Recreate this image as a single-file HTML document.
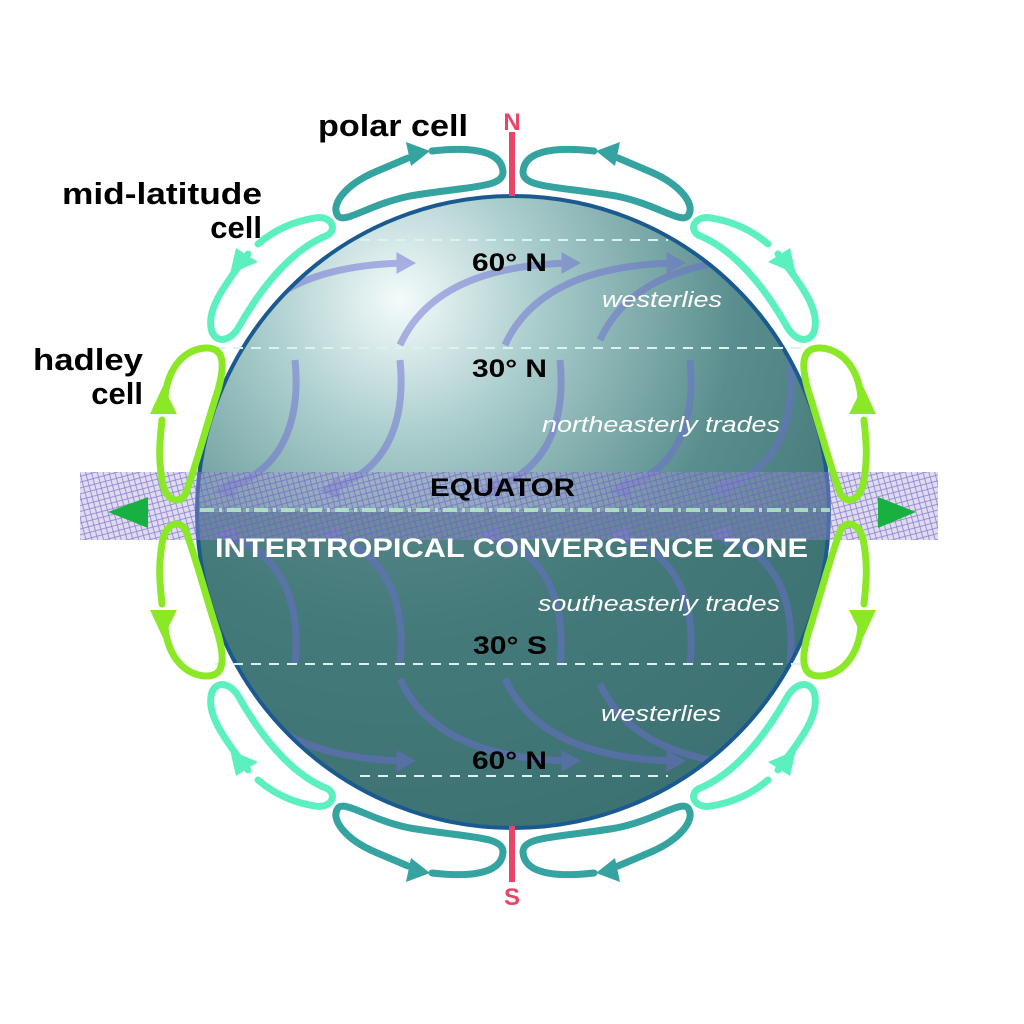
<!DOCTYPE html>
<html><head><meta charset="utf-8"><style>
html,body{margin:0;padding:0;background:#fff}
svg{display:block}
text{font-family:"Liberation Sans",Arial,sans-serif}
</style></head><body>
<svg width="1024" height="1024" viewBox="0 0 1024 1024" xmlns="http://www.w3.org/2000/svg">
<defs>
<radialGradient id="g" cx="400" cy="300" r="560" gradientUnits="userSpaceOnUse">
<stop offset="0" stop-color="#f4fbfb"/>
<stop offset="0.25" stop-color="#a9cccc"/>
<stop offset="0.6" stop-color="#5a8e8e"/>
<stop offset="1" stop-color="#3d6f70"/>
</radialGradient>
<clipPath id="gc"><circle cx="513" cy="512" r="316"/></clipPath>
<pattern id="hatch" width="8" height="8" patternUnits="userSpaceOnUse" patternTransform="rotate(30)">
<path d="M0,0 L8,8 M8,0 L0,8" stroke="#6a5cc0" stroke-width="0.8" opacity="0.7"/>
</pattern>
<g id="wn">
<path d="M0,0 C25,-55 85,-80 170,-82" fill="none" stroke-width="7"/>
<polygon points="180,-82 162,-92 162,-72"/>
</g>
<g id="wt">
<path d="M0,0 C6,60 -12,112 -70,128" fill="none" stroke-width="7"/>
<polygon points="-80,131 -62,118 -60,138"/>
</g>
<g id="cells">
<path d="M432,151 C475,146 502,152 503,172 C503,188 470,186 410,196 C370,204 345,224 338,216 C330,205 345,185 375,172 L408,158" fill="none" stroke="#35a3a0" stroke-width="7" stroke-linecap="round"/>
<polygon points="430,151 406,142 411,166" fill="#35a3a0"/>
<path d="M248,254 C225,285 205,310 212,332 C218,345 232,340 240,325 C260,290 290,250 328,235 C338,228 330,215 315,218 C290,222 272,232 258,244" fill="none" stroke="#5cf0c0" stroke-width="7" stroke-linecap="round"/>
<polygon points="230,274 236,248 258,262" fill="#5cf0c0"/>
<path d="M165,410 C163,375 180,350 205,348 C225,347 225,365 218,390 C205,430 195,470 185,495 C178,505 165,500 162,480 C158,455 160,440 162,420" fill="none" stroke="#8ae826" stroke-width="7" stroke-linecap="round"/>
<polygon points="163,386 150,414 177,414" fill="#8ae826"/>
</g>
</defs>

<circle cx="513" cy="512" r="316" fill="url(#g)"/>
<rect x="197" y="512" width="632" height="320" fill="#3e7374" clip-path="url(#gc)" opacity="0.75"/>
<g clip-path="url(#gc)" fill="#6c6cd2" stroke="#6c6cd2" opacity="0.5">
<use href="#wn" transform="translate(235,345)"/>
<use href="#wn" transform="translate(400,345)"/>
<use href="#wn" transform="translate(505,345)"/>
<use href="#wn" transform="translate(600,340)"/>
<use href="#wt" transform="translate(295,360)"/>
<use href="#wt" transform="translate(400,360)"/>
<use href="#wt" transform="translate(560,360)"/>
<use href="#wt" transform="translate(690,360)"/>
<use href="#wt" transform="translate(790,360)"/>
<g transform="translate(0,1024) scale(1,-1)">
<use href="#wn" transform="translate(235,345)"/>
<use href="#wn" transform="translate(400,345)"/>
<use href="#wn" transform="translate(505,345)"/>
<use href="#wn" transform="translate(600,340)"/>
<use href="#wt" transform="translate(295,360)"/>
<use href="#wt" transform="translate(400,360)"/>
<use href="#wt" transform="translate(560,360)"/>
<use href="#wt" transform="translate(690,360)"/>
<use href="#wt" transform="translate(790,360)"/>
</g>
</g>
<circle cx="513" cy="512" r="316" fill="none" stroke="#1a5a90" stroke-width="4"/>

<g stroke="#d8f4f0" stroke-width="2" stroke-dasharray="10,8">
<line x1="360" y1="240" x2="668" y2="240"/>
<line x1="215" y1="348" x2="810" y2="348"/>
<line x1="215" y1="664" x2="810" y2="664"/>
<line x1="360" y1="776" x2="668" y2="776"/>
</g>

<rect x="80" y="472" width="858" height="68" fill="#a49ad8" opacity="0.35"/>
<rect x="80" y="472" width="858" height="68" fill="url(#hatch)"/>
<line x1="200" y1="510" x2="830" y2="510" stroke="#b8f0c8" stroke-width="4" stroke-dasharray="14,5,3,5" opacity="0.8"/>
<polygon points="108,512 148,497 148,528" fill="#18b040"/>
<polygon points="916,512 878,497 878,528" fill="#18b040"/>

<use href="#cells"/>
<use href="#cells" transform="translate(1026,0) scale(-1,1)"/>
<use href="#cells" transform="translate(0,1024) scale(1,-1)"/>
<use href="#cells" transform="translate(1026,1024) scale(-1,-1)"/>

<line x1="512" y1="132" x2="512" y2="196" stroke="#ea4468" stroke-width="6"/>
<line x1="512" y1="826" x2="512" y2="882" stroke="#ea4468" stroke-width="6"/>
<text x="512" y="130" text-anchor="middle" font-size="24" font-weight="bold" fill="#ea4468">N</text>
<text x="512" y="905" text-anchor="middle" font-size="24" font-weight="bold" fill="#ea4468">S</text>

<g font-weight="bold" font-size="31" fill="#000" lengthAdjust="spacingAndGlyphs">
<text x="318" y="136" textLength="150" lengthAdjust="spacingAndGlyphs">polar cell</text>
<text x="62" y="204" textLength="200" lengthAdjust="spacingAndGlyphs">mid-latitude</text>
<text x="262" y="238" text-anchor="end">cell</text>
<text x="33" y="370" textLength="110" lengthAdjust="spacingAndGlyphs">hadley</text>
<text x="143" y="404" text-anchor="end">cell</text>
</g>
<g font-weight="bold" font-size="25" fill="#000">
<text x="472" y="271" textLength="75" lengthAdjust="spacingAndGlyphs">60° N</text>
<text x="472" y="377" textLength="75" lengthAdjust="spacingAndGlyphs">30° N</text>
<text x="430" y="496" textLength="145" lengthAdjust="spacingAndGlyphs">EQUATOR</text>
<text x="473" y="654" textLength="74" lengthAdjust="spacingAndGlyphs">30° S</text>
<text x="472" y="769" textLength="75" lengthAdjust="spacingAndGlyphs">60° N</text>
</g>
<text x="215" y="557" textLength="593" lengthAdjust="spacingAndGlyphs" font-weight="bold" font-size="27" fill="#fff">INTERTROPICAL CONVERGENCE ZONE</text>
<g font-style="italic" font-size="22" fill="#fff">
<text x="602" y="307" textLength="120" lengthAdjust="spacingAndGlyphs">westerlies</text>
<text x="542" y="432" textLength="238" lengthAdjust="spacingAndGlyphs">northeasterly trades</text>
<text x="538" y="611" textLength="242" lengthAdjust="spacingAndGlyphs">southeasterly trades</text>
<text x="601" y="721" textLength="120" lengthAdjust="spacingAndGlyphs">westerlies</text>
</g>
</svg>
</body></html>
